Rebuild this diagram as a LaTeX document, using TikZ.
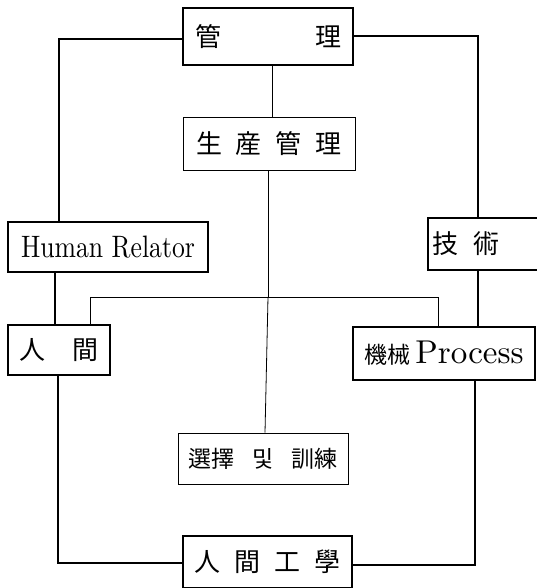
\documentclass[tikz,border=0pt]{standalone}
\usepackage{fontspec}
\newfontfamily\cjk{Noto Sans CJK KR}
\begin{document}
\begin{tikzpicture}[x=1pt,y=-1pt,
  thickbox/.style={draw, line width=1.8pt, inner sep=0pt, rectangle},
  thinbox/.style={draw, line width=0.8pt, inner sep=0pt, rectangle},
  outer/.style={line width=2.2pt},
  inner/.style={line width=0.8pt},
  cjkbig/.style={font=\cjk\fontsize{26}{28}\selectfont}]
\useasboundingbox (0,0) rectangle (536,588);
\fill[white] (0,0) rectangle (536,588);

% boxes
\node[thickbox, cjkbig, minimum width=170pt, minimum height=57pt] (kanri) at (268,36.5) {管\hspace{94pt}理};
\node[thinbox, cjkbig, minimum width=172pt, minimum height=53pt] (seisan) at (269,143.5) {生\hspace{14pt}産\hspace{14pt}管\hspace{14pt}理};
\node[thickbox, minimum width=200pt, minimum height=50pt] (human) at (108,247) {\scalebox{2.57}[3.1]{Human Relator}};
\node[thickbox, cjkbig, minimum width=102pt, minimum height=50pt] (jinkan) at (59,350) {人\hspace{28pt}間\hspace{10pt}};
\node[draw=none, cjkbig, anchor=west, inner xsep=4pt, inner ysep=0pt, minimum height=52pt] (gijutsu) at (428,244) {技\hspace{15pt}術};
\node[thickbox, minimum width=182pt, minimum height=53pt] (kikai) at (444,353.5) {{\cjk\fontsize{23}{25}\selectfont 機械}\hspace{5pt}\scalebox{3.3}{Process}\hspace{20pt}};
\node[thinbox, font=\cjk\fontsize{23}{25}\selectfont, minimum width=170pt, minimum height=51pt] (senteku) at (263,458.5) {選擇\hspace{18pt}및\hspace{18pt}訓練};
\node[thickbox, cjkbig, minimum width=169pt, minimum height=52pt] (ningen) at (267.5,562) {人\hspace{14pt}間\hspace{14pt}工\hspace{14pt}學\hspace{6pt}};

% open box of gijutsu (runs off the right edge)
\coordinate (redge) at (545,0);
\draw[line width=1.8pt] (gijutsu.north west -| redge) -- (gijutsu.north west) -- (gijutsu.south west) -- (gijutsu.south west -| redge);

% outer loop
\coordinate (tl) at (59,39);
\coordinate (tr) at (478,36);
\coordinate (hx) at (55,0);
\coordinate (bl) at (58,563);
\coordinate (br) at (475,565);
\draw[outer] (kanri.west |- tl) -- (tl) -- (tl |- human.north);
\draw[outer] (kanri.east |- tr) -- (tr) -- (tr |- gijutsu.north);
\draw[outer] (human.south -| hx) -- (jinkan.north -| hx);
\draw[outer] (gijutsu.south -| tr) -- (kikai.north -| tr);
\draw[outer] (jinkan.south -| bl) -- (bl) -- (ningen.west |- bl);
\draw[outer] (kikai.south -| br) -- (br) -- (ningen.east |- br);

% inner tree
\coordinate (j) at (268,297);
\coordinate (jl) at (90,297);
\coordinate (jr) at (438,297);
\draw[inner] (kanri.south -| 272,0) -- (seisan.north -| 272,0);
\draw[inner] (seisan.south -| j) -- (j);
\draw[inner] (jinkan.north -| jl) -- (jl) -- (jr) -- (kikai.north -| jr);
\draw[inner] (j) -- (senteku.north -| 265,0);
\end{tikzpicture}
\end{document}
